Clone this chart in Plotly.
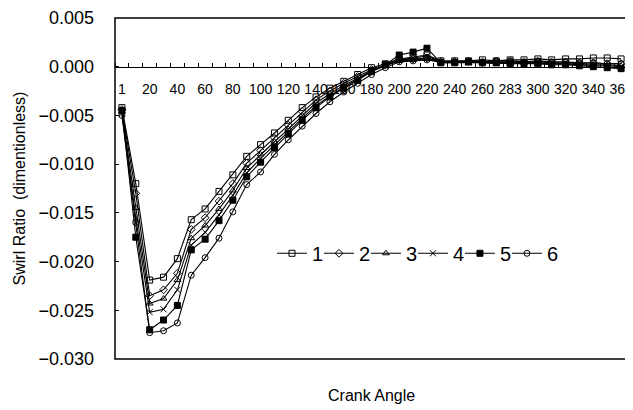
import plotly.graph_objects as go

# Crank angle categories (as labelled in the source chart)
angle_labels = ["1", "10", "20", "30", "40", "50", "60", "70", "80", "90",
                "100", "110", "120", "130", "140", "150", "160", "170", "180", "190",
                "200", "210", "220", "230", "240", "250", "260", "270", "283", "290",
                "300", "310", "320", "330", "340", "350", "360"]

series_names = ["1", "2", "3", "4", "5", "6"]

s1 = [-0.0042, -0.0120, -0.0219, -0.0216, -0.0197, -0.0157, -0.0146, -0.0128, -0.0111, -0.0092,
      -0.0080, -0.0068, -0.0055, -0.0042, -0.0031, -0.0022, -0.0015, -0.0008, -0.0001, 0.0003,
      0.0008, 0.0010, 0.0012, 0.0006, 0.0006, 0.0006, 0.0007, 0.0006, 0.0007, 0.0007,
      0.0008, 0.0007, 0.0008, 0.0008, 0.0009, 0.0009, 0.0008]
s2 = [-0.0044, -0.0130, -0.0235, -0.0229, -0.0212, -0.0167, -0.0155, -0.0138, -0.0120, -0.0099,
      -0.0086, -0.0073, -0.0060, -0.0046, -0.0034, -0.0025, -0.0017, -0.0010, -0.0003, 0.0002,
      0.0007, 0.0008, 0.0009, 0.0005, 0.0005, 0.0005, 0.0004, 0.0005, 0.0005, 0.0004,
      0.0005, 0.0004, 0.0004, 0.0003, 0.0004, 0.0003, 0.0003]
s3 = [-0.0046, -0.0145, -0.0243, -0.0238, -0.0219, -0.0176, -0.0163, -0.0146, -0.0127, -0.0104,
      -0.0090, -0.0077, -0.0064, -0.0050, -0.0037, -0.0028, -0.0019, -0.0012, -0.0004, 0.0001,
      0.0006, 0.0007, 0.0008, 0.0004, 0.0004, 0.0004, 0.0004, 0.0003, 0.0004, 0.0004,
      0.0003, 0.0003, 0.0003, 0.0002, 0.0002, 0.0002, 0.0001]
s4 = [-0.0048, -0.0155, -0.0252, -0.0249, -0.0229, -0.0183, -0.0170, -0.0152, -0.0132, -0.0109,
      -0.0094, -0.0080, -0.0067, -0.0053, -0.0040, -0.0030, -0.0021, -0.0013, -0.0005, 0.0001,
      0.0007, 0.0009, 0.0011, 0.0005, 0.0005, 0.0004, 0.0005, 0.0004, 0.0004, 0.0003,
      0.0004, 0.0003, 0.0003, 0.0002, 0.0001, 0.0001, 0.0000]
s5 = [-0.0045, -0.0175, -0.0270, -0.0260, -0.0245, -0.0188, -0.0177, -0.0158, -0.0137, -0.0113,
      -0.0098, -0.0083, -0.0069, -0.0055, -0.0042, -0.0031, -0.0022, -0.0014, -0.0005, 0.0002,
      0.0012, 0.0015, 0.0019, 0.0004, 0.0004, 0.0005, 0.0004, 0.0004, 0.0003, 0.0003,
      0.0003, 0.0002, 0.0002, 0.0001, 0.0000, -0.0001, -0.0002]
s6 = [-0.0050, -0.0160, -0.0273, -0.0271, -0.0263, -0.0214, -0.0196, -0.0176, -0.0149, -0.0121,
      -0.0108, -0.0090, -0.0075, -0.0061, -0.0048, -0.0036, -0.0026, -0.0017, -0.0008, -0.0001,
      0.0005, 0.0006, 0.0007, 0.0005, 0.0005, 0.0006, 0.0005, 0.0006, 0.0006, 0.0005,
      0.0006, 0.0005, 0.0005, 0.0004, 0.0004, 0.0003, 0.0003]

all_series = [s1, s2, s3, s4, s5, s6]
symbols = ["square-open", "diamond-open", "triangle-up-open", "x-thin-open", "square", "circle-open"]

y_ticks = [0.005, 0.000, -0.005, -0.010, -0.015, -0.020, -0.025, -0.030]
y_min, y_max = -0.030, 0.005

x_idx = list(range(len(angle_labels)))

# one small legend per series so they can sit side by side with tight spacing
legend_ids = ["legend", "legend2", "legend3", "legend4", "legend5", "legend6"]

fig = go.Figure()
for name, vals, sym, lg in zip(series_names, all_series, symbols, legend_ids):
    fig.add_trace(go.Scatter(
        x=x_idx, y=vals, name=name, mode="lines+markers", legend=lg,
        line=dict(color="black", width=1.1),
        marker=dict(symbol=sym, size=6, color="black",
                    line=dict(color="black", width=1)),
    ))

zero_pos = (0 - y_min) / (y_max - y_min)

legend_x0 = 0.306
legend_step = 0.0916
legend_layout = {}
for k, lg in enumerate(legend_ids):
    legend_layout[lg] = dict(
        orientation="h", x=legend_x0 + k * legend_step, y=0.31,
        xanchor="left", yanchor="middle",
        bgcolor="rgba(0,0,0,0)", borderwidth=0,
        font=dict(family="Liberation Sans Narrow, Arial Narrow, Liberation Sans, sans-serif", size=20),
    )

fig.update_layout(
    width=625, height=402,
    margin=dict(l=107, r=5, t=10, b=51),
    paper_bgcolor="white", plot_bgcolor="white",
    font=dict(family="Liberation Sans, Arial, sans-serif", color="black"),
    showlegend=True,
    xaxis=dict(
        range=[-0.5, len(angle_labels) - 0.5],
        anchor="free", position=zero_pos, automargin=False,
        showline=True, linecolor="black", linewidth=1.3,
        showgrid=False, zeroline=False,
        tickmode="array", tickvals=x_idx[::2], ticktext=angle_labels[::2],
        ticks="", ticklabelstandoff=9, tickangle=0,
        tickfont=dict(family="Liberation Sans Narrow, Arial Narrow, Liberation Sans, sans-serif", size=14),
        minor=dict(ticks="inside", tickmode="linear", tick0=-0.5, dtick=1,
                   ticklen=4, tickcolor="black", showgrid=False),
    ),
    yaxis=dict(
        range=[y_min, y_max],
        domain=[0, 1], automargin=False,
        showline=False, showgrid=False, zeroline=False,
        tickmode="array", tickvals=y_ticks, tickformat=".3f",
        ticks="inside", ticklen=4, tickcolor="black",
        ticklabelstandoff=20,
        tickfont=dict(size=18),
        title=dict(text="Swirl Ratio  (dimentionless)", font=dict(size=16), standoff=8),
    ),
    shapes=[dict(type="rect", xref="paper", yref="paper", x0=0, x1=1, y0=0, y1=1,
                 line=dict(color="black", width=1.5), fillcolor="rgba(0,0,0,0)")],
    annotations=[dict(text="Crank Angle", xref="paper", yref="paper", x=0.5, y=-0.106,
                      xanchor="center", yanchor="middle", showarrow=False,
                      font=dict(size=16))],
    **legend_layout,
)

fig.write_html("out.html")
